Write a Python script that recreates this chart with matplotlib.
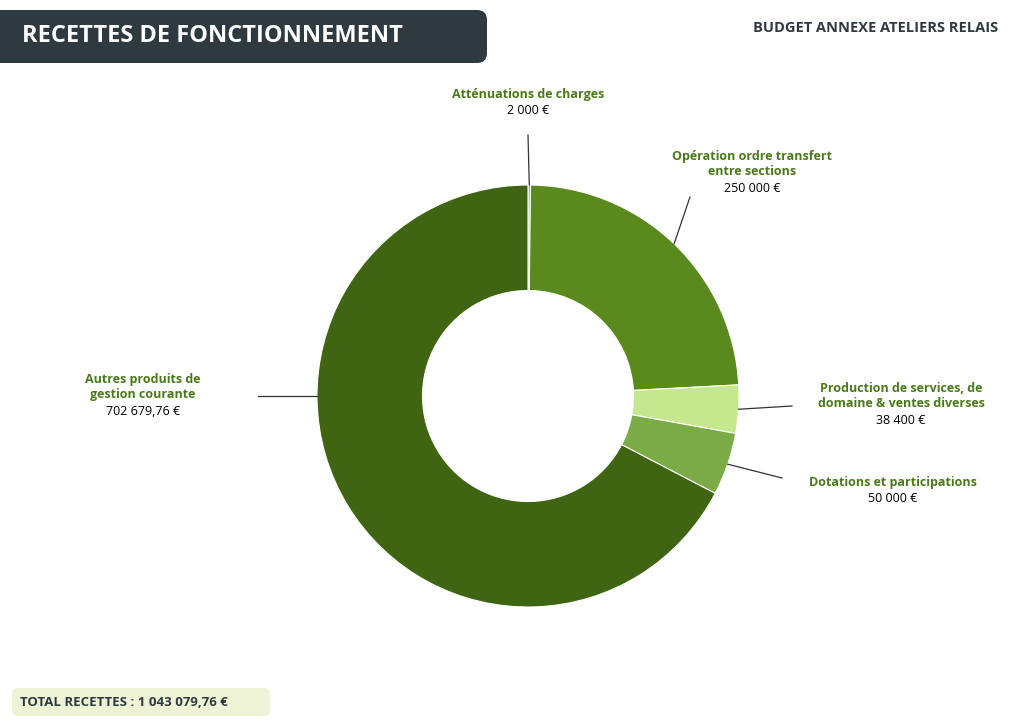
import numpy as np
import matplotlib.pyplot as plt
from matplotlib.patches import FancyBboxPatch

plt.rcParams['font.family'] = ['Open Sans', 'DejaVu Sans']

labels = ["Atténuations de charges", "Opération ordre transfert\nentre sections",
          "Production de services, de\ndomaine & ventes diverses",
          "Dotations et participations", "Autres produits de\ngestion courante"]
values = [2000, 250000, 38400, 50000, 702679.76]
value_text = ["2 000 €", "250 000 €", "38 400 €", "50 000 €", "702 679,76 €"]
colors = ["#8fbf4f", "#5a8a1e", "#c5e88f", "#7aab45", "#3f6512"]

W, H = 1024, 724
fig = plt.figure(figsize=(W / 100, H / 100), dpi=100)
ax = fig.add_axes([0, 0, 1, 1])
ax.set_xlim(0, W)
ax.set_ylim(0, H)
ax.set_aspect('equal')
ax.axis('off')

cx, cy, R = 528, H - 396, 211
wedges, _ = ax.pie(values, colors=colors, startangle=90, counterclock=False,
                   center=(cx, cy), radius=R, frame=True,
                   wedgeprops=dict(width=R * 0.5, edgecolor='white', linewidth=0.8))
ax.set_xlim(0, W)
ax.set_ylim(0, H)
ax.axis('off')

# label anchor (text x, text top y) and line end, in pixels from top-left
label_pos = [(528, 88), (752, 150), (901, 382), (893, 476), (143, 373)]
line_end = [(528, 135), (690, 197), (792, 406), (782, 478), (258, 396)]
for w, (tx, ty), (ex, ey), lab, val in zip(wedges, label_pos, line_end, labels, value_text):
    ang = np.deg2rad((w.theta1 + w.theta2) / 2)
    sx, sy = cx + R * np.cos(ang), cy + R * np.sin(ang)
    if lab.startswith("Autres"):
        sy = H - ey
        sx = cx - np.sqrt(R ** 2 - (sy - cy) ** 2)
    ax.plot([sx, ex], [sy, H - ey], color='#333333', lw=0.9)
    ax.text(tx, H - ty, lab, ha='center', va='top', fontsize=9, fontweight='bold',
            color='#4a7a1a', linespacing=1.2)
    nlines = lab.count("\n") + 1
    ax.text(tx, H - ty - 16 * nlines, val, ha='center', va='top', fontsize=9, color='black')

# header
ax.add_patch(FancyBboxPatch((-20, H - 63), 507, 53, boxstyle="round,pad=0,rounding_size=10",
                            fc='#2e3a40', ec='none'))
ax.text(22, H - 36, "RECETTES DE FONCTIONNEMENT", color='white', fontsize=17,
        fontweight='bold', va='center', ha='left')
ax.text(998, H - 28, "BUDGET ANNEXE ATELIERS RELAIS", color='#2e3a40', fontsize=10.5,
        fontweight='bold', va='center', ha='right')

# total
ax.add_patch(FancyBboxPatch((12, H - 716), 258, 28, boxstyle="round,pad=0,rounding_size=6",
                            fc='#eef3d6', ec='none'))
ax.text(20, H - 702, "TOTAL RECETTES : 1 043 079,76 €", color='#2e3a40', fontsize=9.5,
        fontweight='bold', va='center', ha='left')

fig.savefig("out.png", dpi=100)
